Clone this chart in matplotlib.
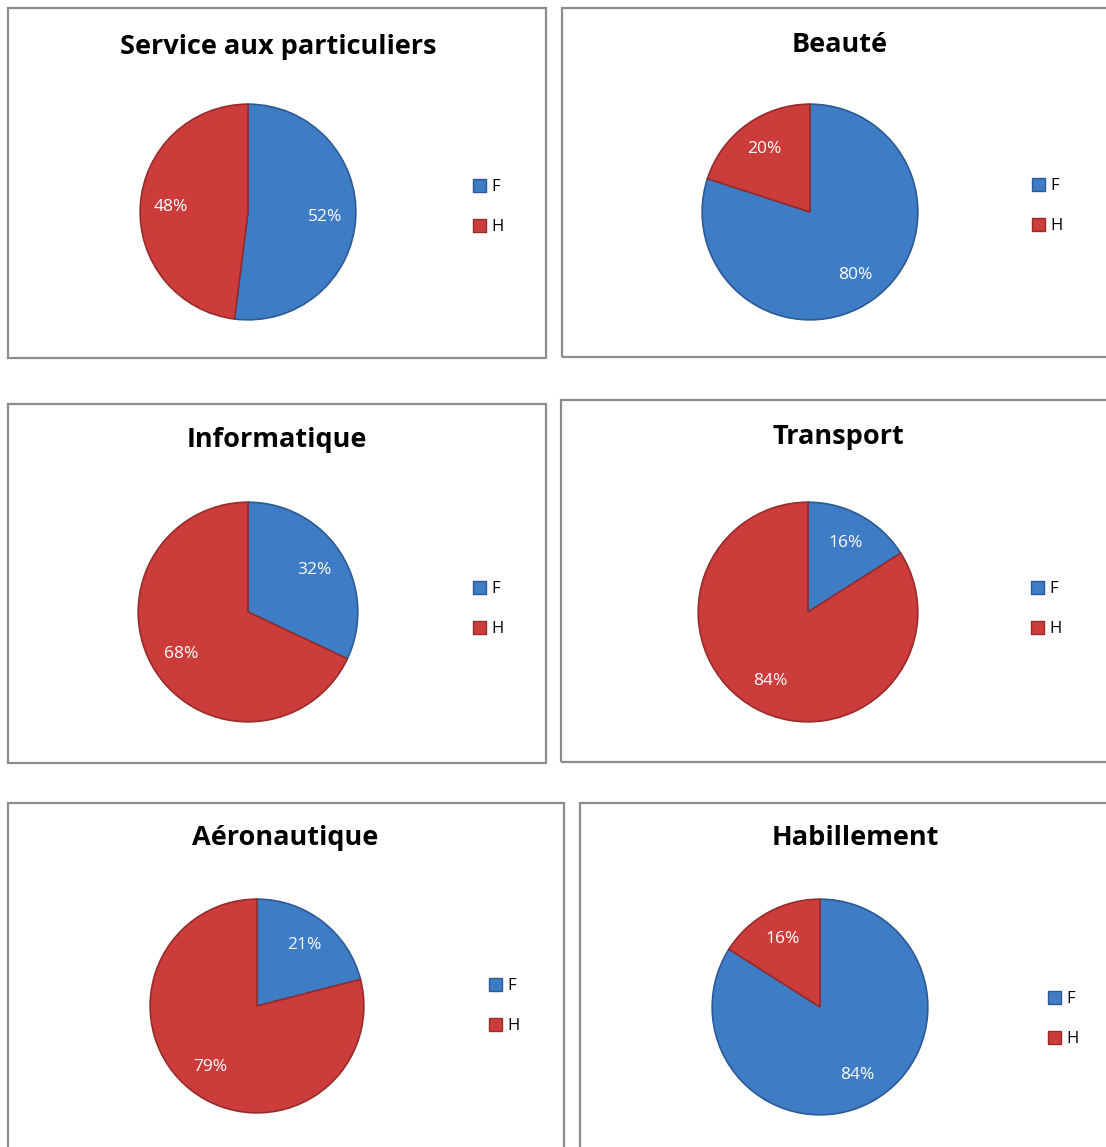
import matplotlib
matplotlib.use("Agg")
import matplotlib.pyplot as plt
from matplotlib.patches import Rectangle, Patch

W, H = 1106, 1147
DPI = 100

titles = ["Service aux particuliers", "Beauté", "Informatique",
          "Transport", "Aéronautique", "Habillement"]
categories = ["F", "H"]
f_values = [52, 80, 32, 16, 21, 84]
h_values = [48, 20, 68, 84, 79, 16]

colors = ["#3E7CC6", "#CC3C3B"]
edges = ["#2B5A94", "#962B2A"]

# layout (pixels): panel box, pie centre/radius, title pos, legend pos
panels = [(8, 8, 546, 358), (562, 8, 1116, 357), (8, 404, 546, 763),
          (561, 400, 1116, 762), (8, 803, 564, 1160), (580, 803, 1116, 1160)]
pies = [(248, 212, 110), (810, 212, 110), (248, 612, 112),
        (808, 612, 112), (257, 1006, 109), (820, 1007, 110)]
title_pos = [(278, 47), (840, 45), (277, 440), (838, 437), (285, 838), (855, 838)]
legend_pos = [(473, 207), (1032, 206), (473, 609), (1031, 609), (489, 1006), (1048, 1019)]

plt.rcParams['font.family'] = ['Open Sans', 'DejaVu Sans']
fig = plt.figure(figsize=(W / DPI, H / DPI), dpi=DPI)
fig.patch.set_facecolor("white")

def fx(x):
    return x / W

def fy(y):
    return 1 - y / H

for i in range(6):
    x0, y0, x1, y1 = panels[i]
    fig.patches.append(Rectangle((fx(x0), fy(y1)), fx(x1 - x0), (y1 - y0) / H,
                                 transform=fig.transFigure, fill=False,
                                 edgecolor="#8C8C8C", linewidth=1.6))
    cx, cy, r = pies[i]
    ax = fig.add_axes([fx(cx - r), fy(cy + r), 2 * r / W, 2 * r / H])
    vals = [f_values[i], h_values[i]]
    wedges, texts, autotexts = ax.pie(
        vals, colors=colors, startangle=90, counterclock=False,
        autopct=lambda p: f"{p:.0f}%", pctdistance=0.72, radius=1,
        wedgeprops=dict(linewidth=1.2),
        textprops=dict(color="white", fontsize=12.5))
    for w, ec in zip(wedges, edges):
        w.set_edgecolor(ec)
    ax.set_xlim(-1.02, 1.02)
    ax.set_ylim(-1.02, 1.02)
    ax.set_aspect("equal")
    ax.axis("off")
    tx, ty = title_pos[i]
    fig.text(fx(tx), fy(ty), titles[i], ha="center", va="center",
             fontsize=19.5, fontweight="bold", color="black")
    lx, ly = legend_pos[i]
    handles = [Patch(facecolor=colors[k], edgecolor=edges[k], label=categories[k])
               for k in range(2)]
    fig.legend(handles=handles, loc="center left",
               bbox_to_anchor=(fx(lx), fy(ly)), frameon=False,
               fontsize=12, handlelength=0.8, handleheight=0.8,
               handletextpad=0.3, labelspacing=1.45, borderpad=0,
               borderaxespad=0)

fig.savefig("out.png", dpi=DPI)
